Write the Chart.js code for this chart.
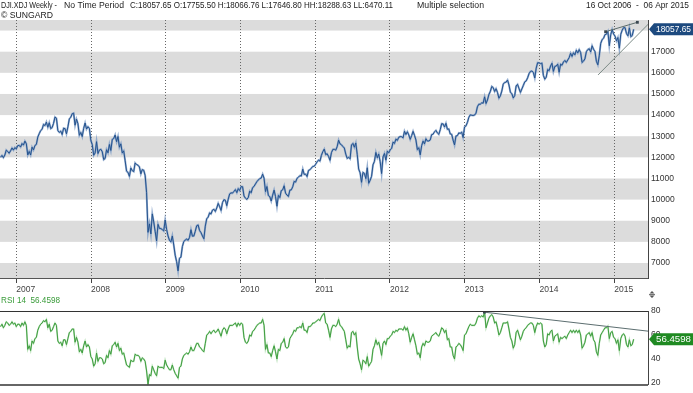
<!DOCTYPE html>
<html>
<head>
<meta charset="utf-8">
<script src="https://cdn.jsdelivr.net/npm/chart.js@4.4.0/dist/chart.umd.min.js"></script>
<style>
  html, body { margin: 0; padding: 0; background: #fff; }
  body { width: 693px; height: 393px; position: relative; overflow: hidden; }
  canvas { position: absolute; left: 0; }
  #priceChart { top: 0; }
  #rsiChart { top: 290px; }
</style>
</head>
<body>
<canvas id="priceChart" width="693" height="300"></canvas>
<canvas id="rsiChart" width="693" height="103"></canvas>
<script>
// DJI.XDJ weekly closes, one array per calendar year (weeks start on Monday, first week 16 Oct 2006)
const close2006 = [12002, 12090, 11986, 12108, 12342, 12280, 12194, 12307, 12445, 12343, 12463];
const close2007 = [12398, 12556, 12566, 12487, 12653, 12581, 12768, 12647, 12114, 12277, 12111, 12481, 12354, 12560, 12612, 12961, 13121, 13265, 13327, 13556, 13507, 13668, 13424, 13639, 13361, 13409, 13611, 13907, 13851, 13265, 13182, 13240, 13079, 13379, 13358, 13114, 13442, 13821, 13896, 14066, 14093, 13522, 13807, 13595, 13043, 13177, 12981, 13372, 13625, 13339, 13451, 13366, 12800];
const close2008 = [12606, 12099, 12207, 12743, 12182, 12348, 12381, 12266, 11894, 11951, 12361, 12216, 12609, 12325, 12849, 12891, 13058, 12745, 12986, 12480, 12638, 12210, 12307, 11843, 11346, 11288, 11100, 11496, 11370, 11326, 11734, 11659, 11628, 11543, 11220, 11421, 11388, 11143, 10325, 8451, 8852, 8378, 9325, 8943, 8497, 8046, 8829, 8635, 8629, 8579, 8515, 9034];
const close2009 = [8599, 8281, 8077, 8001, 8280, 7850, 7366, 7063, 6627, 7224, 7278, 7776, 8018, 8083, 8131, 8076, 8212, 8575, 8268, 8277, 8500, 8764, 8799, 8539, 8438, 8280, 8146, 8743, 9093, 9172, 9370, 9321, 9505, 9544, 9441, 9605, 9820, 9665, 9487, 9865, 9996, 9972, 9713, 10023, 10270, 10318, 10309, 10389, 10471, 10329, 10520, 10428];
const close2010 = [10618, 10610, 10173, 10067, 10013, 10099, 10402, 10325, 10567, 10625, 10742, 10851, 10928, 10997, 11019, 11204, 11009, 10380, 10620, 10193, 10137, 9932, 10212, 10450, 10144, 9686, 10198, 10098, 10425, 10466, 10654, 10303, 10213, 10150, 10448, 10462, 10608, 10860, 10830, 11006, 11063, 11133, 11118, 11445, 11193, 11204, 11092, 11382, 11411, 11492, 11573, 11578];
const close2011 = [11675, 11787, 11871, 11824, 12092, 12273, 12391, 12130, 12169, 12044, 11859, 12221, 12377, 12380, 12342, 12505, 12811, 12638, 12596, 12512, 12442, 12151, 11952, 12004, 11934, 12583, 12657, 12480, 12681, 12143, 11445, 11269, 10818, 11285, 11240, 10992, 11509, 10771, 10913, 11103, 11644, 11809, 12231, 11983, 12153, 11796, 11231, 12019, 12184, 11866, 12294, 12218];
const close2012 = [12360, 12422, 12720, 12660, 12862, 12801, 12950, 12983, 12978, 12922, 13233, 13081, 13212, 13060, 12850, 13029, 13228, 13038, 12821, 12369, 12455, 12119, 12554, 12767, 12640, 12880, 12772, 12777, 12822, 13075, 13096, 13207, 13275, 13157, 13090, 13306, 13593, 13579, 13437, 13610, 13328, 13343, 13107, 13093, 12815, 12588, 13009, 13026, 13155, 13135, 13190, 12938, 13435];
const close2013 = [13488, 13649, 13896, 14010, 13993, 13982, 14001, 14090, 14397, 14515, 14513, 14579, 14565, 14865, 14548, 14713, 14974, 15118, 15354, 15303, 15116, 15248, 15071, 14800, 14910, 15136, 15464, 15544, 15559, 15658, 15425, 15082, 15010, 14810, 14922, 15376, 15452, 15258, 15073, 15237, 15400, 15570, 15616, 15762, 15962, 16065, 16086, 16020, 15755, 16221, 16479, 16470];
const close2014 = [16437, 16458, 15879, 15699, 15794, 16154, 16103, 16322, 16453, 16066, 16303, 16323, 16413, 16027, 16409, 16361, 16513, 16584, 16491, 16607, 16717, 16924, 16776, 16948, 16851, 17068, 16944, 17100, 16961, 16493, 16554, 16663, 17001, 17098, 17138, 16988, 17280, 17114, 17009, 16544, 16380, 16805, 17391, 17573, 17635, 17810, 17828, 17958, 17281, 17804, 18053, 17833];
const close2015 = [17737, 17511, 17672, 17165, 17824, 18019, 18140, 18133, 17856, 17749, 18128, 17713, 17763, 18057.65];

// RSI 14, same weeks
const rsi2006 = [67, 69, 66, 68, 71, 70, 68, 69, 71, 69, 70];
const rsi2007 = [67, 69, 69, 67, 70, 68, 71, 68, 48, 51, 47, 55, 53, 57, 58, 64, 67, 69, 70, 72, 71, 73, 66, 69, 63, 64, 67, 70, 68, 55, 53, 54, 51, 56, 56, 52, 57, 62, 63, 65, 65, 54, 58, 54, 46, 48, 45, 51, 55, 50, 52, 50, 42];
const rsi2008 = [40, 34, 36, 45, 38, 41, 41, 40, 36, 37, 43, 41, 47, 44, 51, 52, 54, 50, 53, 47, 49, 44, 45, 40, 35, 34, 33, 39, 38, 38, 44, 43, 43, 42, 38, 41, 40, 38, 30, 19, 27, 26, 34, 31, 28, 26, 34, 33, 33, 33, 32, 39];
const rsi2009 = [35, 33, 31, 31, 35, 31, 28, 26, 24, 33, 34, 40, 43, 44, 45, 44, 46, 50, 47, 47, 50, 53, 53, 50, 49, 47, 46, 53, 60, 61, 63, 61, 63, 64, 62, 63, 65, 62, 59, 64, 66, 65, 61, 65, 68, 68, 68, 69, 70, 67, 70, 68];
const rsi2010 = [70, 69, 58, 54, 53, 55, 60, 59, 63, 64, 66, 68, 69, 70, 70, 73, 68, 48, 52, 45, 45, 42, 47, 51, 46, 40, 48, 47, 53, 54, 57, 50, 49, 50, 57, 59, 61, 64, 63, 66, 66, 67, 66, 70, 64, 64, 62, 67, 67, 68, 70, 70];
const rsi2011 = [71, 72, 73, 72, 75, 77, 78, 70, 69, 64, 58, 65, 68, 68, 67, 69, 73, 68, 67, 65, 63, 56, 49, 51, 50, 62, 63, 60, 62, 50, 40, 36, 31, 39, 38, 36, 42, 34, 36, 38, 48, 51, 56, 52, 54, 49, 43, 53, 55, 52, 57, 57];
const rsi2012 = [59, 60, 63, 62, 64, 63, 65, 65, 65, 64, 67, 64, 66, 61, 54, 58, 61, 56, 51, 44, 45, 41, 50, 53, 51, 55, 54, 54, 55, 59, 60, 61, 62, 60, 59, 62, 66, 65, 62, 64, 56, 57, 50, 50, 43, 40, 50, 51, 53, 52, 50, 47, 60];
const rsi2013 = [61, 64, 67, 69, 68, 68, 68, 70, 74, 76, 75, 76, 75, 79, 66, 70, 74, 76, 77, 75, 70, 71, 66, 60, 62, 66, 70, 70, 70, 71, 65, 58, 55, 49, 52, 62, 64, 60, 56, 59, 63, 65, 66, 68, 69, 70, 70, 68, 62, 67, 70, 69];
const rsi2014 = [70, 69, 55, 50, 52, 61, 60, 63, 64, 55, 59, 60, 61, 54, 58, 57, 58, 59, 57, 60, 62, 64, 62, 64, 62, 64, 62, 64, 60, 49, 51, 54, 60, 61, 62, 59, 62, 56, 54, 46, 43, 53, 60, 62, 64, 66, 66, 67.5, 57, 62, 63, 58];
const rsi2015 = [57, 53, 56, 47, 57, 60, 61, 59, 52, 50, 56, 51, 52, 56.4598];

const firstWeek = '2006-10-16';
const yearTicks = [2007, 2008, 2009, 2010, 2011, 2012, 2013, 2014, 2015];
const priceTicks = [7000, 8000, 9000, 10000, 11000, 12000, 13000, 14000, 15000, 16000, 17000];
const rsiTicks = [20, 30, 40, 50, 60, 70, 80];
const shadedBands = [6000, 8000, 10000, 12000, 14000, 16000, 18000]; // each band is 1000 high

// hand drawn trend lines [date, value]
const priceTrendTop = [['2014-11-20', 17947], ['2015-04-24', 18391]];
const priceTrendLow = [['2014-10-14', 15900], ['2015-06-17', 18310]];
const rsiTrend = [['2013-04-07', 79], ['2015-06-15', 63.2]];

const closes = [].concat(close2006, close2007, close2008, close2009, close2010, close2011, close2012, close2013, close2014, close2015);
const rsi = [].concat(rsi2006, rsi2007, rsi2008, rsi2009, rsi2010, rsi2011, rsi2012, rsi2013, rsi2014, rsi2015);

// date -> fractional year so the x axis can be linear
function toYear(ms) {
    const y = new Date(ms).getUTCFullYear();
    const s = Date.UTC(y, 0, 1), e = Date.UTC(y + 1, 0, 1);
    return y + (ms - s) / (e - s);
}
const startMs = Date.parse(firstWeek);
const weekX = closes.map((_, i) => toYear(startMs + i * 7 * 864e5));
const pricePts = closes.map((v, i) => ({ x: weekX[i], y: v }));
const rsiPts = rsi.map((v, i) => ({ x: weekX[i], y: v }));
const toPts = arr => arr.map(([d, v]) => ({ x: toYear(Date.parse(d)), y: v }));

const X_MIN = 2006.782, X_MAX = 2015.452;
const FONT = "'Liberation Sans', Arial, sans-serif";

Chart.defaults.font.family = FONT;
Chart.defaults.font.size = 8.5;
Chart.defaults.color = '#333';

// squeeze/stretch a string to a given width
function fitText(ctx, text, x, y, w) {
    const m = ctx.measureText(text).width;
    ctx.save();
    ctx.translate(x, y);
    ctx.scale(w / m, 1);
    ctx.fillText(text, 0, 0);
    ctx.restore();
}

function valueBox(ctx, area, yPix, color, text) {
    ctx.save();
    ctx.fillStyle = color;
    ctx.beginPath();
    ctx.moveTo(area.right + 1, yPix);
    ctx.lineTo(area.right + 6, yPix - 6);
    ctx.lineTo(693, yPix - 6);
    ctx.lineTo(693, yPix + 6);
    ctx.lineTo(area.right + 6, yPix + 6);
    ctx.closePath();
    ctx.fill();
    ctx.fillStyle = '#fff';
    ctx.font = '9px ' + FONT;
    ctx.textBaseline = 'middle';
    fitText(ctx, text, area.right + 8, yPix + 0.5, 35);
    ctx.restore();
}

const bandPlugin = {
    id: 'bands',
    beforeDraw(chart) {
        const { ctx, chartArea: a, scales: { y } } = chart;
        ctx.save();
        ctx.beginPath();
        ctx.rect(a.left, a.top, a.right - a.left, a.bottom - a.top);
        ctx.clip();
        ctx.fillStyle = '#dcdcdc';
        shadedBands.forEach(v => {
            const top = y.getPixelForValue(v + 1000);
            const bot = y.getPixelForValue(v);
            ctx.fillRect(a.left, top, a.right - a.left, bot - top);
        });
        ctx.restore();
    }
};

const headerPlugin = {
    id: 'header',
    afterDraw(chart) {
        const { ctx, chartArea: a, scales: { y } } = chart;
        ctx.save();
        ctx.fillStyle = '#222';
        ctx.font = '8.5px ' + FONT;
        ctx.textBaseline = 'middle';
        fitText(ctx, 'DJI.XDJ Weekly -', 1, 5.5, 56);
        fitText(ctx, 'No Time Period', 64, 5.5, 60);
        fitText(ctx, 'C:18057.65 O:17755.50 H:18066.76 L:17646.80 HH:18288.63 LL:6470.11', 130, 5.5, 263);
        fitText(ctx, 'Multiple selection', 417, 5.5, 67);
        fitText(ctx, '16 Oct 2006  -  06 Apr 2015', 586, 5.5, 103);
        fitText(ctx, '\u00A9 SUNGARD', 1, 15.5, 52);
        ctx.restore();
        const last = closes[closes.length - 1];
        valueBox(ctx, a, y.getPixelForValue(last), '#1d4a7f', last.toFixed(2));
    }
};

const rsiPlugin = {
    id: 'rsiDecor',
    afterDraw(chart) {
        const { ctx, chartArea: a, scales: { y } } = chart;
        ctx.save();
        ctx.strokeStyle = '#333';
        ctx.lineWidth = 1;
        ctx.beginPath();
        ctx.moveTo(a.left, Math.round(a.top) + 0.5);
        ctx.lineTo(a.right, Math.round(a.top) + 0.5);
        ctx.stroke();
        ctx.lineWidth = 1.5;
        ctx.beginPath();
        ctx.moveTo(a.left, a.bottom);
        ctx.lineTo(a.right, a.bottom);
        ctx.stroke();

        ctx.fillStyle = '#3a9c3a';
        ctx.font = '8.5px ' + FONT;
        ctx.textBaseline = 'middle';
        const last = rsi[rsi.length - 1];
        fitText(ctx, 'RSI 14  ' + last.toFixed(4), 1, 10.5, 59);

        // little splitter handle
        ctx.fillStyle = '#555';
        ctx.beginPath();
        ctx.moveTo(652, 1); ctx.lineTo(654.5, 3.5); ctx.lineTo(649.5, 3.5); ctx.closePath();
        ctx.moveTo(652, 8); ctx.lineTo(654.5, 5.5); ctx.lineTo(649.5, 5.5); ctx.closePath();
        ctx.fill();
        ctx.fillRect(649, 4.2, 6, 0.9);
        ctx.restore();

        valueBox(ctx, a, y.getPixelForValue(last), '#1f8a22', last.toFixed(4));
    }
};

new Chart(document.getElementById('priceChart'), {
    type: 'line',
    data: {
        datasets: [
            {
                data: toPts(priceTrendTop),
                borderColor: '#5d6d6d',
                borderWidth: 1,
                pointRadius: 2,
                pointStyle: 'rect',
                pointBackgroundColor: '#3b4852',
                pointBorderWidth: 0
            },
            {
                data: toPts(priceTrendLow),
                borderColor: '#7b8a86',
                borderWidth: 1,
                pointRadius: 0
            },
            {
                data: pricePts,
                borderColor: '#24528d',
                borderWidth: 1,
                pointRadius: 0
            },
            {
                data: pricePts,
                borderColor: 'rgba(130, 160, 200, 0.85)',
                borderWidth: 2,
                pointRadius: 0
            }
        ]
    },
    options: {
        responsive: false,
        animation: false,
        events: [],
        layout: { autoPadding: false, padding: { top: 20, left: 0, right: 0, bottom: 0 } },
        plugins: { legend: { display: false }, tooltip: { enabled: false } },
        scales: {
            x: {
                type: 'linear',
                position: 'bottom',
                min: X_MIN,
                max: X_MAX,
                afterBuildTicks: s => { s.ticks = yearTicks.map(v => ({ value: v })); },
                afterFit: s => { s.height = 22; },
                grid: { color: '#666', lineWidth: 1, drawTicks: true, tickLength: 5, tickColor: '#444' },
                border: { display: true, color: '#555', dash: [1, 2] },
                ticks: { align: 'start', padding: 2, color: '#444', maxRotation: 0, autoSkip: false, callback: v => String(v) }
            },
            y: {
                position: 'right',
                min: 6290,
                max: 18500,
                afterBuildTicks: s => { s.ticks = priceTicks.map(v => ({ value: v })); },
                afterFit: s => { s.width = 45; },
                grid: { display: false, drawTicks: false },
                border: { display: true, color: '#444' },
                ticks: { padding: 3, color: '#333', callback: v => String(v) }
            }
        }
    },
    plugins: [bandPlugin, headerPlugin]
});

new Chart(document.getElementById('rsiChart'), {
    type: 'line',
    data: {
        datasets: [
            {
                data: toPts(rsiTrend),
                borderColor: '#5c6e70',
                borderWidth: 1,
                pointRadius: [2, 0],
                pointStyle: 'rect',
                pointBackgroundColor: '#3b4852',
                pointBorderWidth: 0
            },
            {
                data: rsiPts,
                borderColor: '#3f9d3f',
                borderWidth: 1,
                pointRadius: 0
            },
            {
                data: rsiPts,
                borderColor: 'rgba(150, 210, 150, 0.7)',
                borderWidth: 1.6,
                pointRadius: 0
            }
        ]
    },
    options: {
        responsive: false,
        animation: false,
        events: [],
        layout: { autoPadding: false, padding: { top: 21, left: 0, right: 0, bottom: 3.7 } },
        plugins: { legend: { display: false }, tooltip: { enabled: false } },
        scales: {
            x: { type: 'linear', display: false, min: X_MIN, max: X_MAX },
            y: {
                position: 'right',
                min: 18.4,
                max: 80,
                afterBuildTicks: s => { s.ticks = rsiTicks.map(v => ({ value: v })); },
                afterFit: s => { s.width = 45; },
                grid: { display: false, drawTicks: false },
                border: { display: true, color: '#444' },
                ticks: { padding: 3, color: '#333', callback: v => String(v) }
            }
        }
    },
    plugins: [rsiPlugin]
});
</script>
</body>
</html>
